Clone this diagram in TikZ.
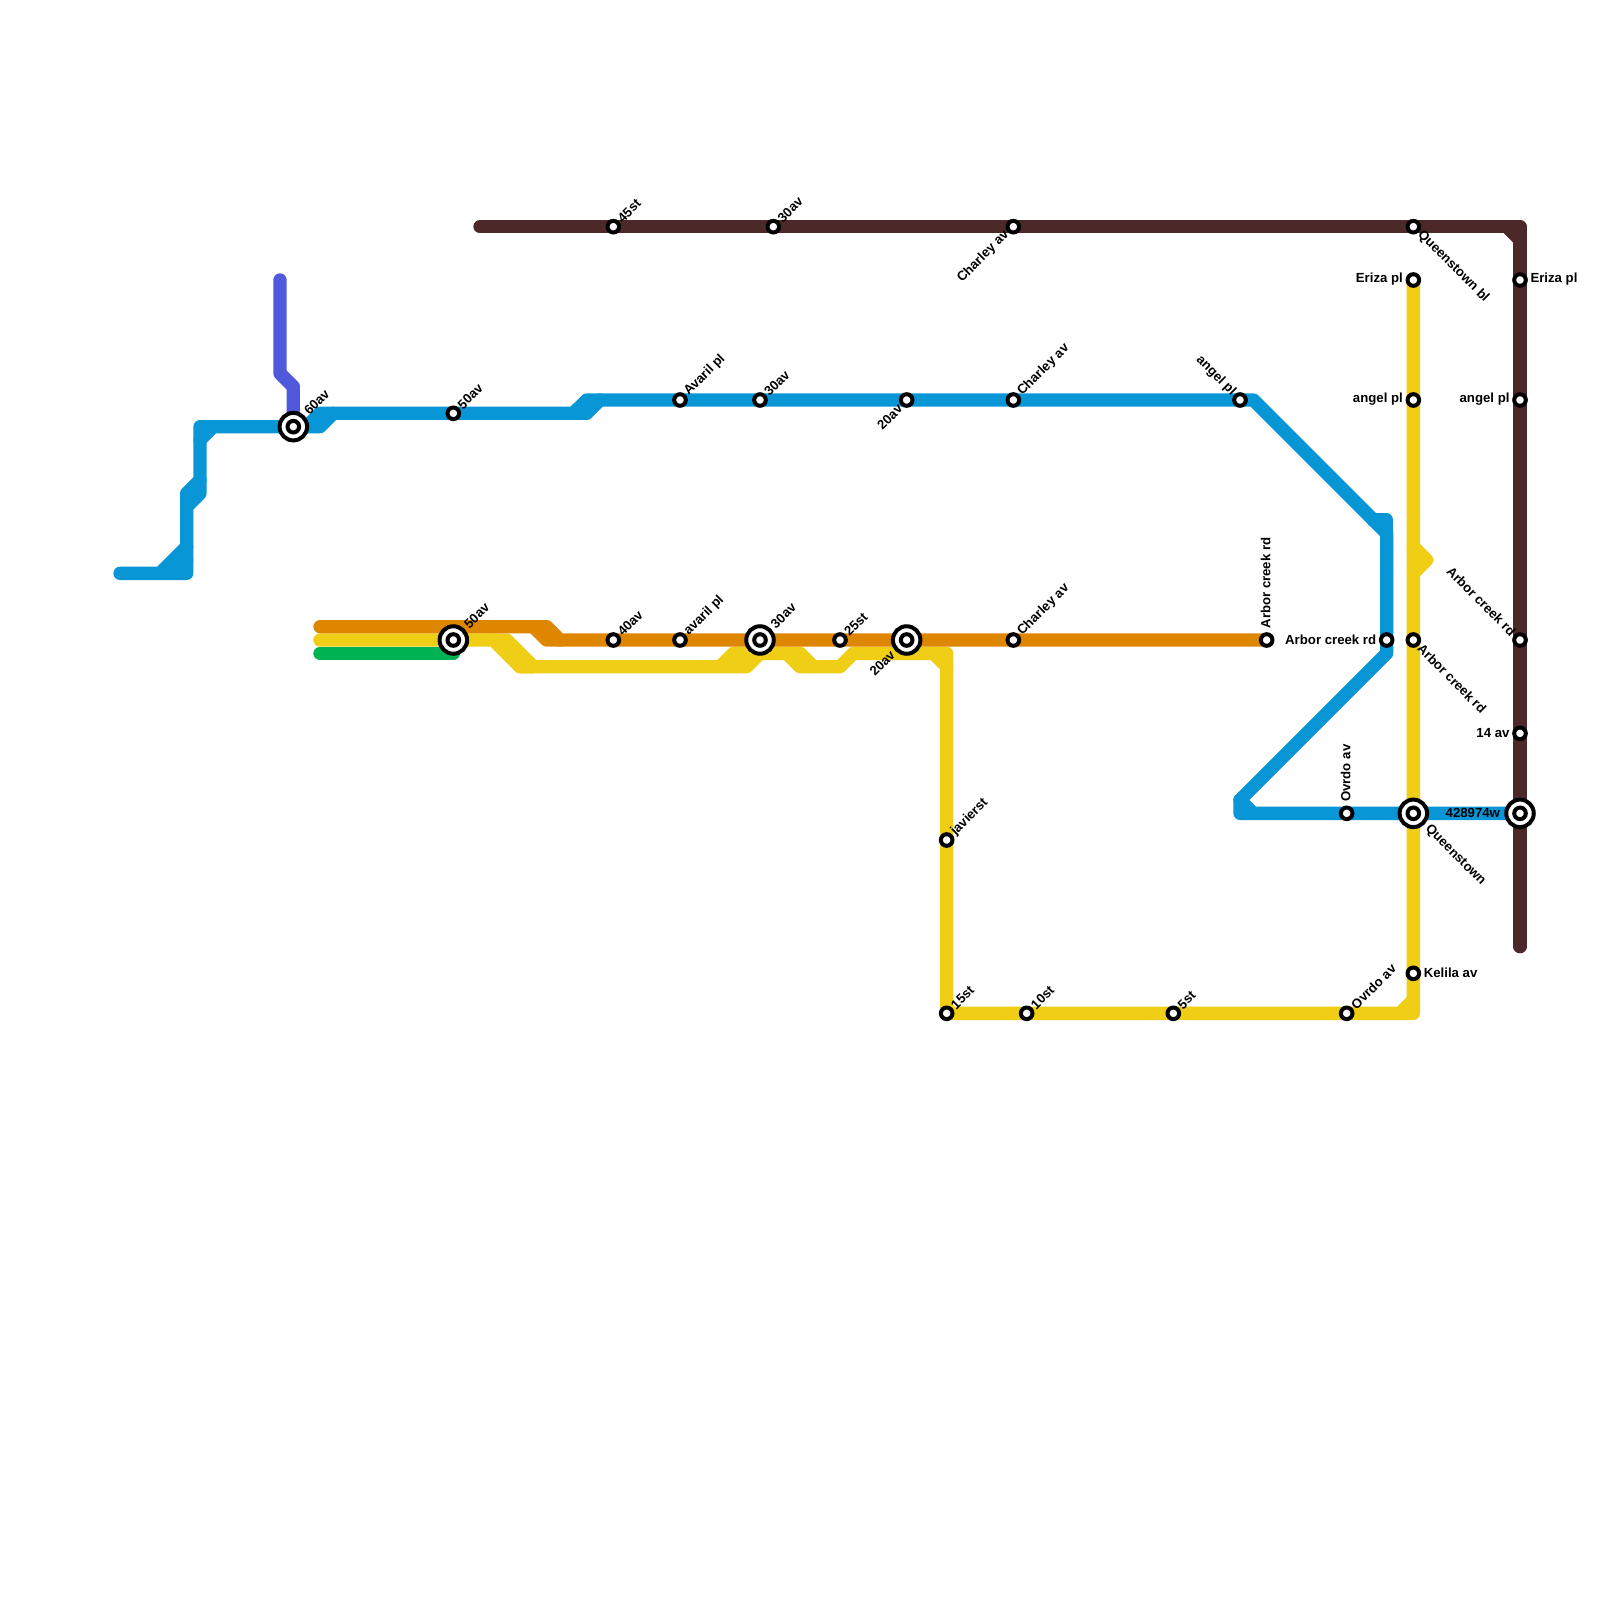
\documentclass[tikz,border=0pt]{standalone}
\usepackage{fontspec}
\setmainfont{Liberation Sans}
\usetikzlibrary{backgrounds}
\definecolor{cblue}{HTML}{0896D7}
\definecolor{cbrown}{HTML}{4D2828}
\definecolor{cyellow}{HTML}{F0CE15}
\definecolor{corange}{HTML}{DF8600}
\definecolor{cgreen}{HTML}{00B251}
\definecolor{cpurple}{HTML}{5058DC}
\tikzset{
  route/.style={line width=13.33pt,line cap=round,line join=round},
  st/.style={circle,draw=black,fill=white,line width=4pt,minimum size=11.6pt,inner sep=0pt,outer sep=0pt},
  bigst/.style={circle,draw=black,fill=white,line width=4pt,minimum size=27.5pt,inner sep=0pt,outer sep=0pt},
  lab/.style={inner sep=0pt,outer sep=0pt,text=black,font=\fontsize{13.2}{14}\selectfont\bfseries},
  lne/.style={shift={(6.5,-6.5)},lab,rotate=45,anchor=west},
  lneb/.style={shift={(13,-14)},lab,rotate=45,anchor=west},
  lsw/.style={shift={(-6.5,6.5)},lab,rotate=45,anchor=east},
  lswb/.style={shift={(-14,13)},lab,rotate=45,anchor=east},
  lnw/.style={shift={(-6.5,-6.5)},lab,rotate=-45,anchor=east},
  lse/.style={shift={(6.5,6.5)},lab,rotate=-45,anchor=west},
  lseb/.style={shift={(14,14)},lab,rotate=-45,anchor=west},
  lup/.style={shift={(-1,-11.5)},lab,rotate=90,anchor=west},
  lw/.style={shift={(-10.5,-0.5)},lab,anchor=east},
  lwb/.style={shift={(-20,-0.5)},lab,anchor=east},
  le/.style={shift={(10.5,-0.5)},lab,anchor=west},
}
\begin{document}
\begin{tikzpicture}[x=1pt,y=-1pt]
\useasboundingbox (0,0) rectangle (1600,1600);
% interchange rings
\node[bigst] (b60) at (293.33,426.67) {};
\node[bigst] (b50) at (453.33,640) {};
\node[bigst] (b30) at (760,640) {};
\node[bigst] (b20) at (906.67,640) {};
\node[bigst] (bQ) at (1413.33,813.33) {};
\node[bigst] (bW) at (1520,813.33) {};
% stations
\node[st] (s60) at (b60.center) {};
\node[st] (s50y) at (b50.center) {};
\node[st] (s30o) at (b30.center) {};
\node[st] (s20o) at (b20.center) {};
\node[st] (sQ) at (bQ.center) {};
\node[st] (sW) at (bW.center) {};
\node[st] (s50b) at (453.33,413.33) {};
\node[st] (s45) at (613.33,226.67) {};
\node[st] (s30t) at (773.33,226.67) {};
\node[st] (sChT) at (1013.33,226.67) {};
\node[st] (sQb) at (1413.33,226.67) {};
\node[st] (sAv) at (680,400) {};
\node[st] (s30b) at (760,400) {};
\node[st] (s20b) at (906.67,400) {};
\node[st] (sChB) at (1013.33,400) {};
\node[st] (sAngB) at (1240,400) {};
\node[st] (s40) at (613.33,640) {};
\node[st] (sava) at (680,640) {};
\node[st] (s25) at (840,640) {};
\node[st] (sChO) at (1013.33,640) {};
\node[st] (sArO) at (1266.67,640) {};
\node[st] (sArB) at (1386.67,640) {};
\node[st] (sArY) at (1413.33,640) {};
\node[st] (sArK) at (1520,640) {};
\node[st] (sErY) at (1413.33,280) {};
\node[st] (sErK) at (1520,280) {};
\node[st] (sAnY) at (1413.33,400) {};
\node[st] (sAnK) at (1520,400) {};
\node[st] (s14) at (1520,733.33) {};
\node[st] (sOv) at (1346.67,813.33) {};
\node[st] (sJa) at (946.67,840) {};
\node[st] (s15) at (946.67,1013.33) {};
\node[st] (s10) at (1026.67,1013.33) {};
\node[st] (s5) at (1173.33,1013.33) {};
\node[st] (sOvY) at (1346.67,1013.33) {};
\node[st] (sKe) at (1413.33,973.33) {};
% route bends
\foreach \n/\p in {
 k1/{480,226.67},k2/{1520,226.67},k3/{1520,946.67},k4/{1506.67,226.67},k5/{1520,240},
 p1/{280,280},p2/{280,373.33},p3/{293.33,386.67},
 a1/{120,573.33},a2/{186.67,573.33},a3/{186.67,493.33},a4/{200,480},a5/{200,426.67},
 a6/{320,426.67},a7/{333.33,413.33},a8/{586.67,413.33},a9/{600,400},a10/{1253.33,400},
 a11/{1386.67,533.33},a12/{1373.33,520},a13/{1386.67,520},a14/{1386.67,653.33},
 a15/{1240,800},a16/{1240,813.33},a17/{1253.33,813.33},
 a18/{160,573.33},a19/{186.67,546.67},a20/{173.33,573.33},a21/{186.67,560},
 a22/{186.67,506.67},a23/{200,493.33},a24/{200,440},a25/{213.33,426.67},
 a26/{306.67,426.67},a27/{320,413.33},a28/{573.33,413.33},a29/{586.67,400},
 o1/{320,626.67},o2/{546.67,626.67},o3/{560,640},o4/{533.33,626.67},o5/{546.67,640},
 g1/{320,653.33},g2/{453.33,653.33},
 y1/{320,640},y2/{506.67,640},y3/{533.33,666.67},y4/{493.33,640},y5/{520,666.67},
 y6/{746.67,666.67},y7/{760,653.33},y8/{800,653.33},y9/{813.33,666.67},y10/{840,666.67},
 y11/{853.33,653.33},y12/{946.67,653.33},y13/{933.33,653.33},y14/{946.67,666.67},
 y15/{720,666.67},y16/{733.33,653.33},y17/{786.67,653.33},y18/{800,666.67},
 y19/{1413.33,1013.33},y20/{1400,1013.33},y21/{1413.33,1000},
 y22/{1413.33,546.67},y23/{1426.67,560},y24/{1413.33,573.33}}
  {\coordinate (\n) at (\p);}
\begin{scope}[on background layer]
% brown
\draw[route,cbrown] (k1) -- (s45.center) -- (s30t.center) -- (sChT.center) -- (sQb.center) -- (k2) -- (sErK.center) -- (sAnK.center) -- (sArK.center) -- (s14.center) -- (sW.center) -- (k3);
\draw[route,cbrown] (k4) -- (k5);
% purple
\draw[route,cpurple] (p1) -- (p2) -- (p3) -- (s60.center);
% blue
\draw[route,cblue] (a1) -- (a2) -- (a3) -- (a4) -- (a5) -- (s60.center) -- (a6) -- (a7) -- (s50b.center) -- (a8) -- (a9) -- (sAv.center) -- (s30b.center) -- (s20b.center) -- (sChB.center) -- (sAngB.center) -- (a10) -- (a11) -- (sArB.center) -- (a14) -- (a15) -- (a16) -- (sOv.center) -- (sQ.center) -- (sW.center);
\draw[route,cblue] (a12) -- (a13) -- (a11);
\draw[route,cblue] (a15) -- (a17);
\draw[route,cblue] (a18) -- (a19);
\draw[route,cblue] (a20) -- (a21);
\draw[route,cblue] (a22) -- (a23) -- (a4);
\draw[route,cblue] (a24) -- (a25);
\draw[route,cblue] (a26) -- (a27) -- (a7);
\draw[route,cblue] (a28) -- (a29) -- (a9);
% yellow
\draw[route,cyellow] (y1) -- (s50y.center) -- (y4) -- (y5) -- (y6) -- (y7) -- (y8) -- (y9) -- (y10) -- (y11) -- (y12) -- (sJa.center) -- (s15.center) -- (s10.center) -- (s5.center) -- (sOvY.center) -- (y19) -- (sKe.center) -- (sQ.center) -- (sArY.center) -- (sAnY.center) -- (sErY.center);
\draw[route,cyellow] (y4) -- (y2) -- (y3) -- (y5);
\draw[route,cyellow] (y15) -- (y16) -- (y7);
\draw[route,cyellow] (y17) -- (y18) -- (y9);
\draw[route,cyellow] (y13) -- (y14);
\draw[route,cyellow] (y20) -- (y21);
\draw[route,cyellow] (y22) -- (y23) -- (y24);
% green
\draw[route,cgreen] (g1) -- (g2);
% orange
\draw[route,corange] (o1) -- (o2) -- (o3) -- (s40.center) -- (sava.center) -- (s30o.center) -- (s25.center) -- (s20o.center) -- (sChO.center) -- (sArO.center);
\draw[route,corange] (o4) -- (o5) -- (o3);
\end{scope}
% labels
\node[lneb] (t60) at (s60) {60av};
\node[lne] (t50b) at (s50b) {50av};
\node[lneb] (t50y) at (s50y) {50av};
\node[lne] (t45) at (s45) {45st};
\node[lne] (t30t) at (s30t) {30av};
\node[lsw] (tChT) at (sChT) {Charley av};
\node[lse] (tQb) at (sQb) {Queenstown bl};
\node[lne] (tAv) at (sAv) {Avaril pl};
\node[lne] (t30b) at (s30b) {30av};
\node[lsw] (t20b) at (s20b) {20av};
\node[lne] (tChB) at (sChB) {Charley av};
\node[lnw] (tAngB) at (sAngB) {angel pl};
\node[lne] (t40) at (s40) {40av};
\node[lne] (tava) at (sava) {avaril pl};
\node[lneb] (t30o) at (s30o) {30av};
\node[lne] (t25) at (s25) {25st};
\node[lswb] (t20o) at (s20o) {20av};
\node[lne] (tChO) at (sChO) {Charley av};
\node[lup] (tArO) at (sArO) {Arbor creek rd};
\node[lw] (tArB) at (sArB) {Arbor creek rd};
\node[lse] (tArY) at (sArY) {Arbor creek rd};
\node[lnw] (tArK) at (sArK) {Arbor creek rd};
\node[lw] (tErY) at (sErY) {Eriza pl};
\node[le] (tErK) at (sErK) {Eriza pl};
\node[lw] (tAnY) at (sAnY) {angel pl};
\node[lw] (tAnK) at (sAnK) {angel pl};
\node[lw] (t14) at (s14) {14 av};
\node[lup] (tOv) at (sOv) {Ovrdo av};
\node[lseb] (tQ) at (sQ) {Queenstown};
\node[lwb] (tW) at (sW) {428974w};
\node[lne] (tJa) at (sJa) {javierst};
\node[lne] (t15) at (s15) {15st};
\node[lne] (t10) at (s10) {10st};
\node[lne] (t5) at (s5) {5st};
\node[lne] (tOvY) at (sOvY) {Ovrdo av};
\node[le] (tKe) at (sKe) {Kelila av};
\end{tikzpicture}
\end{document}
